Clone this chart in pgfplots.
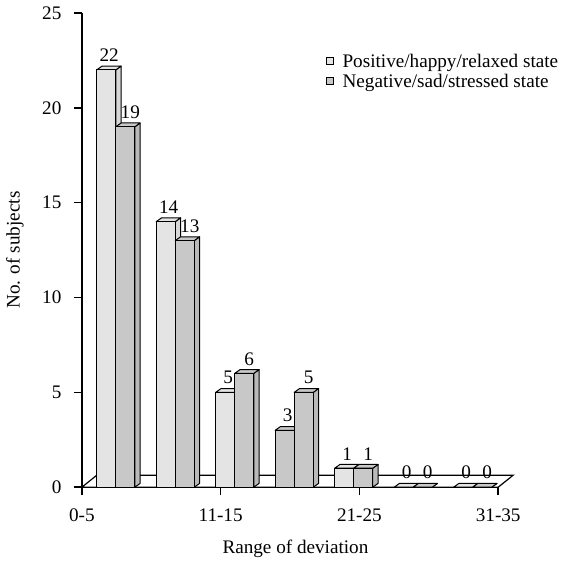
\documentclass[border=0pt]{standalone}
\usepackage{pgfplots}
\pgfplotsset{compat=1.18}
\usepackage{pgfplotstable}
\usepackage{fontspec}
\setmainfont{Liberation Serif}
\definecolor{lf}{RGB}{228,228,228}
\definecolor{lt}{RGB}{228,228,228}
\definecolor{ls}{RGB}{215,215,215}
\definecolor{df}{RGB}{200,200,200}
\definecolor{dt}{RGB}{200,200,200}
\definecolor{ds}{RGB}{185,185,185}
\def\bw{0.32}
\def\bdx{0.09}
\def\bdy{0.2}
\newcommand\drawbar[3]{%
  \pgfmathsetmacro\xa{#1}%
  \pgfmathsetmacro\xb{#1+\bw}%
  \pgfmathsetmacro\xc{#1+\bdx}%
  \pgfmathsetmacro\xd{#1+\bw+\bdx}%
  \pgfmathsetmacro\ya{#2}%
  \pgfmathsetmacro\yb{#2+\bdy}%
  \edef\cmd{%
    \noexpand\addplot[forget plot, draw=black, line width=1bp, line join=round, fill=#3s] coordinates {(\xb,0) (\xd,\bdy) (\xd,\yb) (\xb,\ya)} -- cycle;
    \noexpand\addplot[forget plot, draw=black, line width=1bp, line join=round, fill=#3t] coordinates {(\xa,\ya) (\xc,\yb) (\xd,\yb) (\xb,\ya)} -- cycle;
    \noexpand\addplot[forget plot, draw=black, line width=1bp, line join=round, fill=#3f] coordinates {(\xa,0) (\xa,\ya) (\xb,\ya) (\xb,0)} -- cycle;
  }\cmd
}
\pgfplotstableread{
x pos neg pc
0 22 19 l
1 14 13 l
2 5 6 l
3 3 5 d
4 1 1 l
5 0 0 l
6 0 0 l
}\data
\begin{document}
\begin{tikzpicture}[font=\fontsize{19.2bp}{22bp}\selectfont]
\begin{axis}[
  scale only axis, width=417bp, height=475bp,
  at={(0,0)}, anchor=south west,
  xmin=0, xmax=7, ymin=0, ymax=25,
  clip=false,
  axis lines*=left,
  axis line style={line width=1.5bp},
  every tick/.style={black, line width=1.5bp},
  tick align=outside, major tick length=8bp,
  ytick={0,5,10,15,20,25},
  xtick={0,2.33333,4.66667,7},
  xticklabels={0-5,11-15,21-25,31-35},
  /pgf/number format/assume math mode=true,
  tick label style={font=\fontsize{19.2bp}{22bp}\selectfont},
  yticklabel style={xshift=-9bp},
  xticklabel style={yshift=-10bp},
  xlabel={Range of deviation},
  ylabel={No. of subjects},
  xlabel style={at={(axis description cs:0.513,-0.13)}, anchor=center},
  ylabel style={at={(axis description cs:-0.161,0.5)}, anchor=center},
  legend style={at={(axis description cs:0.585,0.918)}, anchor=north west, draw=none, fill=none,
    font=\fontsize{19.2bp}{22bp}\selectfont, row sep=1bp, inner sep=0pt,
    /tikz/every odd column/.append style={column sep=7bp}},
  legend cell align=left,
]
\addplot[forget plot, draw=black, fill=white, line width=1.2bp] coordinates {(0,0) (7,0) (7.25,0.63) (0.25,0.63)} -- cycle;
\pgfplotsforeachungrouped \i in {0,...,6}{%
  \pgfplotstablegetelem{\i}{x}\of\data \let\cx\pgfplotsretval
  \pgfplotstablegetelem{\i}{pos}\of\data \let\hp\pgfplotsretval
  \pgfplotstablegetelem{\i}{neg}\of\data \let\hn\pgfplotsretval
  \pgfplotstablegetelem{\i}{pc}\of\data \let\pcc\pgfplotsretval
  \pgfmathsetmacro\xl{\cx+0.25}%
  \drawbar{\xl}{\hp}{\pcc}%
  \pgfmathsetmacro\xl{\cx+0.25+\bw}%
  \drawbar{\xl}{\hn}{d}%
}
\addplot[forget plot, draw=none, mark=none, nodes near coords,
  every node near coord/.append style={anchor=south, inner sep=0pt, xshift=3bp, yshift=8bp, text=black,
  font=\fontsize{19.2bp}{22bp}\selectfont}]
  table[x expr=\thisrow{x}+0.41, y=pos]{\data};
\addplot[forget plot, draw=none, mark=none, nodes near coords,
  every node near coord/.append style={anchor=south, inner sep=0pt, xshift=5bp, yshift=8bp, text=black,
  font=\fontsize{19.2bp}{22bp}\selectfont}]
  table[x expr=\thisrow{x}+0.73, y=neg]{\data};
\addlegendimage{legend image code/.code={\draw[fill=lf, line width=1bp] (0bp,-3.5bp) rectangle (7bp,3.5bp);}}
\addlegendentry{Positive/happy/relaxed state}
\addlegendimage{legend image code/.code={\draw[fill=df, line width=1bp] (0bp,-3.5bp) rectangle (7bp,3.5bp);}}
\addlegendentry{Negative/sad/stressed state}
\end{axis}
\path (-82bp,-73bp) rectangle (479bp,488bp);
\end{tikzpicture}
\end{document}
